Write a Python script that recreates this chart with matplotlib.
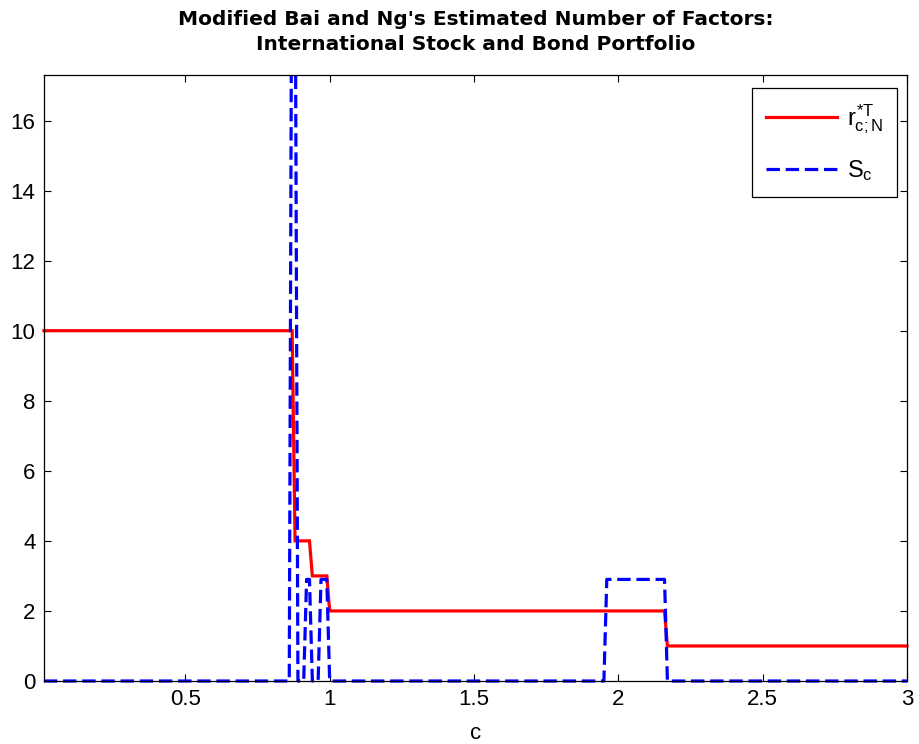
import numpy as np
import matplotlib
matplotlib.use("Agg")
import matplotlib.pyplot as plt
from matplotlib.patches import Rectangle

# ---- data (run-length encoded step values on the c grid 0.01..3.00) ----
c_start, c_stop, c_step = 0.01, 3.00, 0.01
red_values = [10, 4, 3, 2, 1]
red_counts = [87, 6, 6, 117, 84]
blue_values = [0, 25, 22, 0, 2.9, 0, 2.9, 0, 2.9, 0]
blue_counts = [86, 1, 1, 3, 2, 3, 3, 96, 21, 84]
xticks = [0.5, 1, 1.5, 2, 2.5, 3]
yticks = [0, 2, 4, 6, 8, 10, 12, 14, 16]
title_text = "Modified Bai and Ng's Estimated Number of Factors:\nInternational Stock and Bond Portfolio"
xlabel_text = "c"
legend_labels = [r"$r^{*T}_{c;N}$", r"$S_c$"]

n = int(round((c_stop - c_start) / c_step)) + 1
c = np.round(c_start + c_step * np.arange(n), 2)
r_series = np.repeat(red_values, red_counts)
s_series = np.repeat(blue_values, blue_counts)

plt.rcParams['font.family'] = ['Liberation Sans', 'DejaVu Sans']
plt.rcParams['mathtext.fontset'] = 'custom'
plt.rcParams['mathtext.rm'] = 'Liberation Sans'
plt.rcParams['mathtext.it'] = 'Liberation Sans'

fig = plt.figure(figsize=(9.19, 7.44), dpi=100)
ax = fig.add_axes([43.9 / 919, 1 - 681 / 744, (907 - 43.9) / 919, (681 - 75) / 744])

clip = Rectangle((-0.01, -0.01), 1.02, 1.01, transform=ax.transAxes,
                 facecolor='none', edgecolor='none')
l1, = ax.plot(c, r_series, color='#ff0000', lw=2.3, solid_joinstyle='miter')
l2, = ax.plot(c, s_series, color='#0000ff', lw=2.3, linestyle=(0, (4.2, 1.8)))
for ln in (l1, l2):
    ln.set_clip_path(clip)

ax.set_xlim(c_start, c_stop)
ax.set_ylim(0, 17.3)
ax.set_xticks(xticks)
ax.set_xticklabels(["0.5", "1", "1.5", "2", "2.5", "3"])
ax.set_yticks(yticks)
ax.tick_params(direction='in', top=True, right=True, length=5, width=0.8,
               labelsize=16, pad=6)
for sp in ax.spines.values():
    sp.set_linewidth(0.9)

ax.set_xlabel(xlabel_text, fontsize=16, labelpad=9)
ax.set_title(title_text, fontsize=14.5, fontweight='bold', linespacing=1.4, pad=18,
             family=['DejaVu Sans'])

leg = ax.legend([l1, l2], legend_labels, loc='upper right',
                bbox_to_anchor=(897 / 919, 1 - 88 / 744), bbox_transform=fig.transFigure,
                fontsize=17, frameon=True, fancybox=False, framealpha=1,
                edgecolor='black', handlelength=3.0, handletextpad=0.4,
                borderpad=0.6, labelspacing=0.95, borderaxespad=0)
leg.get_frame().set_linewidth(0.9)

fig.savefig("out.png", dpi=100)
